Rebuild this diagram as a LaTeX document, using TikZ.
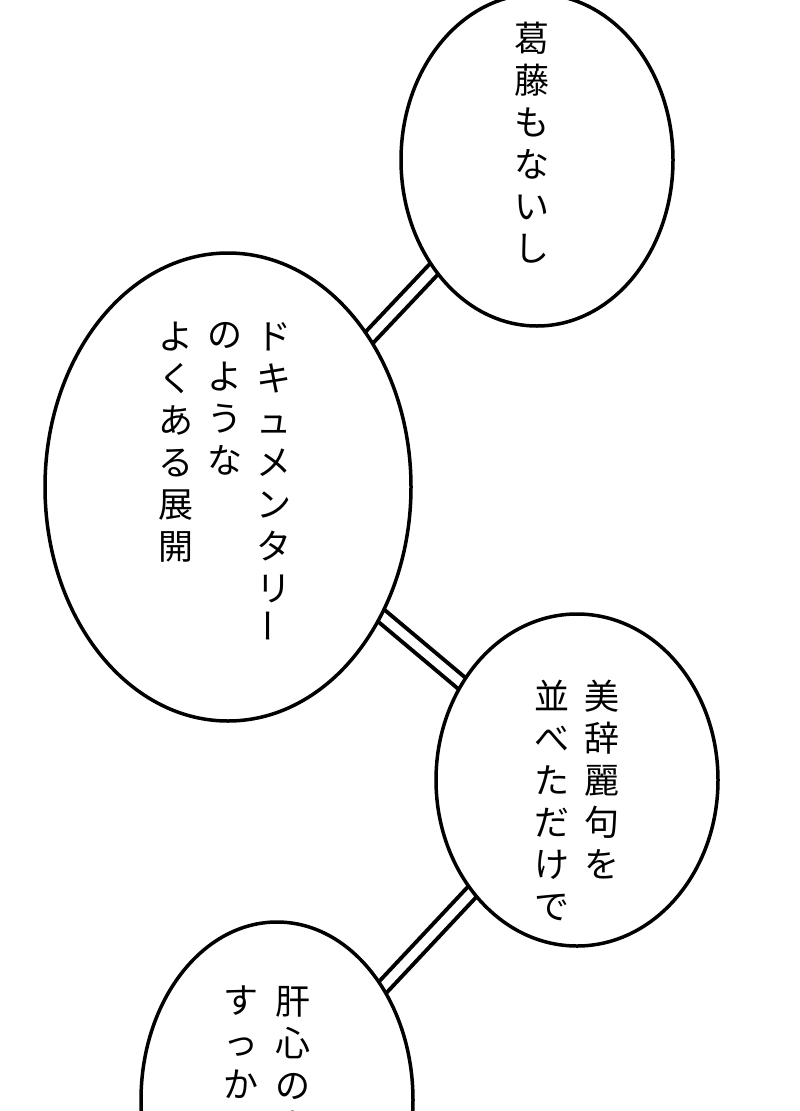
\documentclass[tikz,border=0pt]{standalone}
\usepackage{fontspec}
\newfontfamily\cjk{Noto Sans CJK JP}
\begin{document}
\begin{tikzpicture}[x=1pt,y=-1pt,
  bubble/.style={draw=black,line width=3.5pt,fill=white},
  link/.style={line width=17pt,draw=black},
  linkin/.style={line width=9pt,draw=white},
  col/.style={font=\cjk\fontsize{35}{42}\selectfont,align=center,anchor=north,inner sep=0pt}]
\useasboundingbox (0,0) rectangle (800,1111);
\clip (0,0) rectangle (800,1111);
\coordinate (c1) at (537,160);
\coordinate (c2) at (228,487);
\coordinate (c3) at (577,780);
\coordinate (c4) at (277,1100);
\draw[link] (c1) -- (c2); \draw[linkin] (c1) -- (c2);
\draw[link] (c2) -- (c3); \draw[linkin] (c2) -- (c3);
\draw[link] (c3) -- (c4); \draw[linkin] (c3) -- (c4);
\draw[bubble] (c1) ellipse [x radius=136, y radius=166];
\draw[bubble] (c2) ellipse [x radius=183, y radius=234];
\draw[bubble] (c3) ellipse [x radius=141, y radius=166];
\draw[bubble] (c4) ellipse [x radius=136, y radius=178];
\node[col] (t1) at (532,22) {葛\\藤\\も\\な\\い\\し};
\node[col] (t2a) at (274,322) {ド\\キ\\ュ\\メ\\ン\\タ\\リ\\\rotatebox{90}{ー}};
\node[col] (t2b) at (225,322) {の\\よ\\う\\な};
\node[col] (t2c) at (176,322) {よ\\く\\あ\\る\\展\\開};
\node[col] (t3a) at (602,680) {美\\辞\\麗\\句\\を};
\node[col] (t3b) at (552,680) {並\\べ\\た\\だ\\け\\で};
\node[col] (t4a) at (293,986) {肝\\心\\の\\事};
\node[col] (t4b) at (241,986) {す\\っ\\か\\り};
\end{tikzpicture}
\end{document}
